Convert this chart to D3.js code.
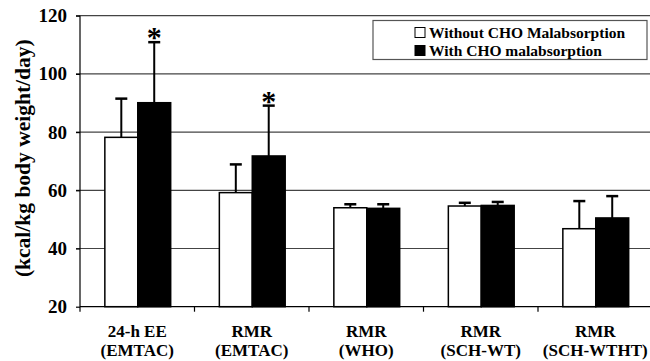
<!DOCTYPE html>
<html>
<head>
<meta charset="utf-8">
<script src="https://cdn.jsdelivr.net/npm/d3@7"></script>
<style>
  body { margin: 0; background: #fff; }
  svg { display: block; }
  svg text { font-family: "Liberation Serif", "Times New Roman", serif !important; font-weight: bold; fill: #000; }
</style>
</head>
<body>
<div id="chart"></div>
<script>
// data
const categories = [["24-h EE", "(EMTAC)"], ["RMR", "(EMTAC)"], ["RMR", "(WHO)"], ["RMR", "(SCH-WT)"], ["RMR", "(SCH-WTHT)"]];
const seriesNames = ["Without CHO Malabsorption", "With CHO malabsorption"];
const withoutMal = [78.2, 59.2, 54.0, 54.6, 46.8];
const withMal = [90.1, 71.8, 53.8, 54.8, 50.5];
const withoutErr = [13.3, 9.7, 1.2, 1.1, 9.5];
const withErr = [20.8, 17.3, 1.4, 1.2, 7.5];
const withSignificant = [true, true, false, false, false];
const yTicks = [20, 40, 60, 80, 100, 120];

function Config() {
    this.width = 650;
    this.height = 361;
    this.plotLeft = 80;
    this.plotRight = 652.5;
    this.plotTop = 15.7;
    this.plotBottom = 306.7;
    this.x0 = d3.scaleBand()
        .domain(d3.range(categories.length))
        .range([this.plotLeft, this.plotRight])
        .padding(0);
    const bw = this.x0.bandwidth();
    this.x1 = d3.scaleBand()
        .domain([0, 1])
        .range([bw * 0.217, bw * 0.792])
        .padding(0);
    this.y = d3.scaleLinear()
        .domain([20, 120])
        .range([this.plotBottom, this.plotTop]);
}

function plotChart(cfg) {
    const svg = d3.select("#chart").append("svg")
        .attr("width", cfg.width)
        .attr("height", cfg.height);

    // gridlines
    svg.append("g")
        .selectAll("line")
        .data(yTicks.slice(1))
        .join("line")
        .attr("x1", cfg.plotLeft - 4)
        .attr("x2", cfg.width)
        .attr("y1", d => cfg.y(d))
        .attr("y2", d => cfg.y(d))
        .attr("stroke", "#444")
        .attr("stroke-width", 1.2);

    // y axis
    const yAxis = svg.append("g")
        .attr("transform", `translate(${cfg.plotLeft},0)`)
        .call(d3.axisLeft(cfg.y).tickValues(yTicks).tickSize(4).tickPadding(9));
    yAxis.select(".domain").remove();
    yAxis.selectAll(".tick line").attr("stroke", "#000").attr("stroke-width", 1.2);
    yAxis.selectAll(".tick text")
        .style("font-size", "19px")
        .attr("fill", "#000");
    svg.append("line")
        .attr("x1", cfg.plotLeft).attr("x2", cfg.plotLeft)
        .attr("y1", cfg.plotTop).attr("y2", cfg.plotBottom + 5)
        .attr("stroke", "#000").attr("stroke-width", 1.2);

    // x axis
    svg.append("line")
        .attr("x1", cfg.plotLeft).attr("x2", cfg.width)
        .attr("y1", cfg.plotBottom).attr("y2", cfg.plotBottom)
        .attr("stroke", "#000").attr("stroke-width", 1.2);
    svg.append("g")
        .selectAll("line")
        .data(d3.range(1, categories.length + 1))
        .join("line")
        .attr("x1", i => cfg.plotLeft + i * cfg.x0.step())
        .attr("x2", i => cfg.plotLeft + i * cfg.x0.step())
        .attr("y1", cfg.plotBottom)
        .attr("y2", cfg.plotBottom + 5)
        .attr("stroke", "#000").attr("stroke-width", 1.2);

    const xLabels = svg.append("g")
        .selectAll("text")
        .data(categories)
        .join("text")
        .attr("text-anchor", "middle")
        .style("font-size", "17px")
        .attr("transform", (d, i) => `translate(${cfg.x0(i) + cfg.x0.bandwidth() / 2},0)`);
    xLabels.append("tspan").attr("x", 0).attr("y", 337).text(d => d[0]);
    xLabels.append("tspan").attr("x", 0).attr("y", 356).text(d => d[1]);

    // y label
    svg.append("text")
        .attr("transform", `translate(23,${(cfg.plotTop + cfg.plotBottom) / 2 - 3}) rotate(-90)`)
        .attr("text-anchor", "middle")
        .attr("dominant-baseline", "central")
        .style("font-size", "21.5px")
        .text("(kcal/kg body weight/day)");

    const series = [
        {values: withoutMal, err: withoutErr, fill: "#fff", sig: categories.map(() => false)},
        {values: withMal, err: withErr, fill: "#000", sig: withSignificant}
    ];

    series.forEach((s, si) => {
        const g = svg.append("g");
        const cx = i => cfg.x0(i) + cfg.x1(si) + cfg.x1.bandwidth() / 2;
        // error bars
        g.selectAll("line.err")
            .data(s.values)
            .join("line")
            .attr("class", "err")
            .attr("x1", (d, i) => cx(i)).attr("x2", (d, i) => cx(i))
            .attr("y1", d => cfg.y(d))
            .attr("y2", (d, i) => cfg.y(d + s.err[i]))
            .attr("stroke", "#000").attr("stroke-width", 2);
        g.selectAll("line.cap")
            .data(s.values)
            .join("line")
            .attr("class", "cap")
            .attr("x1", (d, i) => cx(i) - 6).attr("x2", (d, i) => cx(i) + 6)
            .attr("y1", (d, i) => cfg.y(d + s.err[i]))
            .attr("y2", (d, i) => cfg.y(d + s.err[i]))
            .attr("stroke", "#000").attr("stroke-width", 2.5);
        // bars
        g.selectAll("rect")
            .data(s.values)
            .join("rect")
            .attr("x", (d, i) => cfg.x0(i) + cfg.x1(si))
            .attr("width", cfg.x1.bandwidth())
            .attr("y", d => cfg.y(d))
            .attr("height", d => cfg.y(20) - cfg.y(d))
            .attr("fill", s.fill)
            .attr("stroke", "#000")
            .attr("stroke-width", 1.5);
        // significance marks
        g.selectAll("text")
            .data(s.values.map((d, i) => ({v: d + s.err[i], i})).filter(d => s.sig[d.i]))
            .join("text")
            .attr("x", d => cx(d.i))
            .attr("y", d => cfg.y(d.v) + 5)
            .attr("text-anchor", "middle")
            .style("font-size", "30px")
            .text("*");
    });

    // legend
    const lg = svg.append("g").attr("transform", "translate(373,20.5)");
    lg.append("rect")
        .attr("width", 274).attr("height", 39)
        .attr("fill", "#fff").attr("stroke", "#555").attr("stroke-width", 1.2);
    const items = lg.selectAll("g.item")
        .data(seriesNames)
        .join("g")
        .attr("class", "item")
        .attr("transform", (d, i) => `translate(42,${17 + i * 18})`);
    items.append("rect")
        .attr("x", 0).attr("y", -10).attr("width", 10).attr("height", 10)
        .attr("fill", (d, i) => series[i].fill)
        .attr("stroke", "#000").attr("stroke-width", 1);
    items.append("text")
        .attr("x", 14).attr("y", 0)
        .style("font-size", "15.5px")
        .text(d => d);
}

document.addEventListener("DOMContentLoaded", () => {
    const cfg = new Config();
    plotChart(cfg);
});
</script>
</body>
</html>
